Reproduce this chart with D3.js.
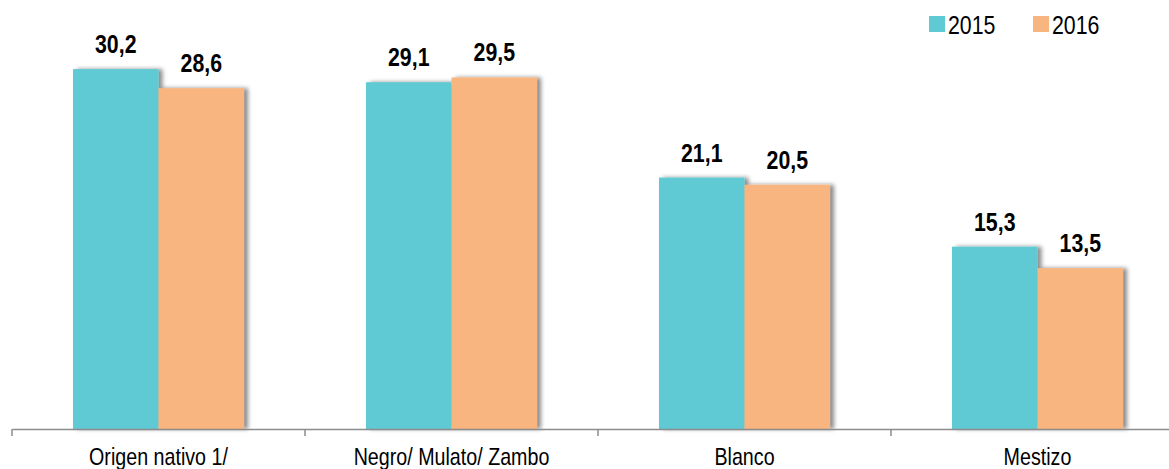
<!DOCTYPE html>
<html><head><meta charset="utf-8">
<script src="https://cdn.jsdelivr.net/npm/d3@7"></script>
<style>
html,body{margin:0;padding:0;background:#fff;}
svg{display:block;}
text{font-family:"Liberation Sans","Arial",sans-serif;fill:#000;}
</style></head>
<body>
<svg id="chart" width="1169" height="469"></svg>
<script>
const categories = ["Origen nativo 1/", "Negro/ Mulato/ Zambo", "Blanco", "Mestizo"];
const seriesNames = ["2015", "2016"];
const values2015 = [30.2, 29.1, 21.1, 15.3];
const values2016 = [28.6, 29.5, 20.5, 13.5];
const colors = ["#5ECAD3", "#F8B57F"];

const NARROW = 0.82;
const svg = d3.select("#chart");
const defs = svg.append("defs");
const f = defs.append("filter").attr("id","shadow").attr("x","-20%").attr("y","-10%").attr("width","140%").attr("height","120%");
f.append("feDropShadow").attr("dx",4).attr("dy",0).attr("stdDeviation",2.2)
  .attr("flood-color","#000").attr("flood-opacity",0.45);

function narrowText(sel, x, y) {
  return sel.attr("x", 0).attr("y", 0)
    .attr("transform", (d,i)=>`translate(${typeof x==="function"?x(d,i):x},${typeof y==="function"?y(d,i):y}) scale(${NARROW},1)`);
}

const baseY = 429;
const x0 = d3.scaleBand().domain(categories).range([12, 1184]).padding(0);
const x1 = d3.scaleBand().domain(seriesNames).range([0, x0.bandwidth()]).paddingInner(0).paddingOuter(0.713);
const y = d3.scaleLinear().domain([0, 36]).range([baseY, 0]);

const data = categories.map((c,i)=>({cat:c, vals:[values2015[i], values2016[i]]}));

const g = svg.append("g");
data.forEach(d=>{
  const grp = g.append("g").attr("transform",`translate(${x0(d.cat)},0)`);
  seriesNames.forEach((s,j)=>{
    grp.append("rect")
      .attr("x", x1(s)).attr("width", x1.bandwidth())
      .attr("y", y(d.vals[j])).attr("height", baseY - y(d.vals[j]))
      .attr("fill", colors[j]).attr("filter","url(#shadow)");
  });
  seriesNames.forEach((s,j)=>{
    const t = grp.append("text")
      .attr("text-anchor","middle")
      .style("font-size","26px").style("font-weight","bold")
      .text(d3.format(".1f")(d.vals[j]).replace(".", ","));
    narrowText(t, x1(s) + x1.bandwidth()/2, y(d.vals[j]) - 16);
  });
});

// axis
const axis = d3.axisBottom(x0).tickSize(0).tickSizeOuter(0).tickFormat("");
const ax = svg.append("g").attr("transform",`translate(0,${baseY})`).call(axis);
ax.select(".domain").attr("stroke","#8c8c8c").attr("stroke-width",1.5);
ax.selectAll(".tick").remove();
const bounds = categories.map(c=>x0(c));
svg.append("g").selectAll("line").data(bounds).join("line")
  .attr("x1",d=>d).attr("x2",d=>d).attr("y1",baseY).attr("y2",baseY+7)
  .attr("stroke","#8c8c8c").attr("stroke-width",1.5);

const cl = svg.append("g").selectAll("text").data(categories).join("text")
  .attr("text-anchor","middle").style("font-size","24px")
  .text(d=>d);
narrowText(cl, d=>x0(d)+x0.bandwidth()/2, 465);

// legend
const leg = svg.append("g");
const legX = [929, 1033];
seriesNames.forEach((s,j)=>{
  leg.append("rect").attr("x",legX[j]).attr("y",16).attr("width",16).attr("height",16).attr("fill",colors[j]);
  const t = leg.append("text").style("font-size","26px").text(s);
  narrowText(t, legX[j]+19, 34);
});
</script>
</body></html>
